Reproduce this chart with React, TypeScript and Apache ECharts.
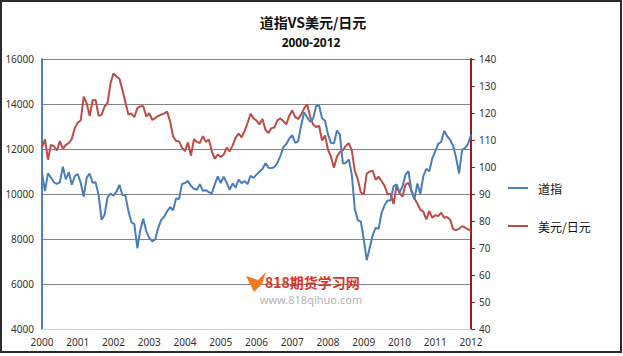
import React, { useEffect, useRef } from "react";
import * as echarts from "echarts";

const years = [2000, 2001, 2002, 2003, 2004, 2005, 2006, 2007, 2008, 2009, 2010, 2011, 2012];

const dow = [
  10940, 10130, 10920, 10730, 10520, 10450, 10520, 11210, 10650, 10970, 10410, 10790,
  10890, 10500, 9880, 10730, 10910, 10500, 10520, 9950, 8850, 9080, 9850, 10020,
  9920, 10110, 10400, 9950, 9930, 9240, 8740, 8660, 7590, 8400, 8900, 8340,
  8050, 7890, 7990, 8480, 8850, 8990, 9230, 9420, 9280, 9800, 9780, 10450,
  10490, 10580, 10360, 10230, 10190, 10440, 10140, 10170, 10080, 10030, 10430, 10780,
  10490, 10770, 10500, 10190, 10470, 10280, 10640, 10480, 10570, 10440, 10810, 10720,
  10860, 10990, 11110, 11370, 11170, 11150, 11190, 11380, 11680, 12080, 12220, 12460,
  12620, 12270, 12350, 13060, 13630, 13410, 13210, 13360, 13900, 13930, 13370, 13260,
  12650, 12270, 12260, 12820, 12640, 11350, 11380, 11540, 10850, 9330, 8830, 8780,
  8000, 7060, 7610, 8170, 8500, 8450, 9170, 9500, 9710, 9710, 10340, 10430,
  10070, 10330, 10860, 11010, 10140, 9770, 10470, 10010, 10790, 11120, 11010, 11580,
  11890, 12230, 12320, 12810, 12570, 12410, 12140, 11610, 10910, 11960, 12050, 12220,
  12630,
];

const usdJpy = [
  107.3, 110.2, 102.7, 108.2, 107.7, 106.1, 109.6, 106.7, 108.2, 108.9, 110.4, 114.4,
  116.4, 117.3, 126.1, 123.6, 118.9, 124.7, 124.8, 119.0, 119.3, 122.4, 123.7, 131.0,
  134.7, 133.5, 132.7, 128.5, 124.0, 119.4, 119.8, 118.5, 121.8, 122.5, 122.5, 118.7,
  119.9, 117.4, 118.1, 118.9, 119.4, 119.8, 120.5, 116.9, 111.4, 109.6, 109.5, 107.2,
  105.9, 109.1, 104.2, 110.3, 109.3, 108.9, 111.4, 109.3, 110.2, 105.8, 103.1, 104.6,
  103.7, 104.6, 107.2, 105.8, 108.0, 110.9, 112.4, 111.0, 113.3, 116.3, 119.7, 118.0,
  117.2, 115.8, 117.8, 113.8, 112.6, 114.4, 114.6, 117.3, 118.0, 117.0, 115.8, 119.0,
  121.0, 118.5, 117.8, 119.5, 121.7, 123.2, 118.6, 115.8, 114.8, 115.3, 109.8, 111.7,
  106.4, 103.8, 99.7, 103.9, 105.5, 106.2, 107.9, 108.8, 106.1, 98.5, 95.5, 90.6,
  89.9, 97.6, 98.3, 98.6, 95.3, 96.4, 94.7, 93.0, 89.8, 90.1, 86.3, 93.0,
  90.3, 89.0, 93.5, 94.1, 91.4, 88.4, 86.5, 84.2, 83.5, 80.6, 83.7, 81.2,
  82.1, 81.8, 83.1, 81.2, 81.5, 80.5, 77.0, 76.6, 77.1, 78.1, 77.6, 76.9,
  76.3,
];

const seriesNames = ["道指", "美元/日元"];
const titleText = "道指VS美元/日元";
const subTitleText = "2000-2012";

// month categories: Jan 2000 ... Jan 2012
const months: string[] = [];
years.forEach((y, i) => {
  const n = i === years.length - 1 ? 1 : 12;
  for (let m = 1; m <= n; m++) months.push(`${y}-${m}`);
});

const FONT = "'Noto Sans', 'Liberation Sans', sans-serif";
const CJK = "'Noto Sans CJK SC', sans-serif";
const BLUE = "#4a7ebb";
const RED = "#be4b48";

export default function App() {
  const ref = useRef<HTMLDivElement>(null);
  useEffect(() => {
    document.body.style.margin = "0";
    const chart = echarts.init(ref.current!, null, { renderer: "svg" });
    chart.setOption({
      animation: false,
      backgroundColor: "#ffffff",
      grid: { left: 42, right: 152, top: 59, bottom: 27, containLabel: false },
      legend: {
        orient: "vertical",
        left: 503,
        top: 177,
        icon: "rect",
        itemWidth: 20,
        itemHeight: 2,
        itemGap: 26,
        data: seriesNames,
        textStyle: { fontFamily: CJK, fontSize: 12, color: "#111", padding: [0, 0, 0, 5] },
      },
      xAxis: {
        type: "category",
        data: months,
        boundaryGap: false,
        axisLine: { show: true, lineStyle: { color: "#d4d4d4", width: 1 } },
        axisTick: { show: false },
        axisLabel: {
          interval: (i: number) => i % 12 === 0,
          formatter: (v: string) => v.split("-")[0],
          fontFamily: FONT,
          fontSize: 10,
          color: "#333",
          margin: 8,
        },
        splitLine: { show: false },
      },
      yAxis: [
        {
          type: "value",
          min: 4000,
          max: 16000,
          interval: 2000,
          axisLine: { show: true, lineStyle: { color: "#4f81bd", width: 2 } },
          axisTick: { show: false },
          axisLabel: {
            fontFamily: FONT,
            fontSize: 10,
            color: "#333",
            margin: 8,
            formatter: (v: number) => String(v),
          },
          splitLine: { show: true, lineStyle: { color: "#858585", width: 1.2 } },
        },
        {
          type: "value",
          min: 40,
          max: 140,
          interval: 10,
          position: "right",
          axisLine: { show: true, lineStyle: { color: "#981e1e", width: 2 } },
          axisTick: { show: true, length: 4, lineStyle: { color: "#981e1e", width: 1 } },
          axisLabel: {
            fontFamily: FONT,
            fontSize: 10,
            color: "#333",
            margin: 8,
            formatter: (v: number) => String(v),
          },
          splitLine: { show: false },
        },
      ],
      series: [
        {
          name: seriesNames[0],
          type: "line",
          data: dow,
          yAxisIndex: 0,
          showSymbol: false,
          color: BLUE,
          lineStyle: { color: BLUE, width: 2 },
          z: 3,
        },
        {
          name: seriesNames[1],
          type: "line",
          data: usdJpy,
          yAxisIndex: 1,
          showSymbol: false,
          color: RED,
          lineStyle: { color: RED, width: 2 },
          z: 2,
        },
      ],
      graphic: [
        {
          type: "rect",
          shape: { x: 1, y: 1, width: 620, height: 351 },
          style: { fill: "none", stroke: "#2b2b2b", lineWidth: 2 },
          z: 10,
        },
        {
          type: "text",
          x: 313,
          y: 22,
          style: {
            text: titleText,
            textAlign: "center",
            textVerticalAlign: "middle",
            font: `bold 14px ${CJK}`,
            fill: "#111",
          },
        },
        {
          type: "text",
          x: 311,
          y: 42,
          style: {
            text: subTitleText,
            textAlign: "center",
            textVerticalAlign: "middle",
            font: `bold 12px ${FONT}`,
            fill: "#111",
          },
        },
        {
          type: "polygon",
          shape: { points: [[246, 276], [258, 280], [266, 272], [262, 284], [254, 292], [250, 284]] },
          style: { fill: "#f07a1e" },
          z: 5,
        },
        {
          type: "text",
          x: 265,
          y: 282,
          style: {
            text: "818期货学习网",
            textAlign: "left",
            textVerticalAlign: "middle",
            font: `bold 14px ${CJK}`,
            fill: "#e2321f",
          },
          z: 5,
        },
        {
          type: "text",
          x: 311,
          y: 299,
          style: {
            text: "www.818qihuo.com",
            textAlign: "center",
            textVerticalAlign: "middle",
            font: `11px ${FONT}`,
            fill: "#b4b4b4",
          },
          z: 5,
        },
      ],
    });
    return () => chart.dispose();
  }, []);
  return <div ref={ref} style={{ width: 623, height: 356 }} />;
}
